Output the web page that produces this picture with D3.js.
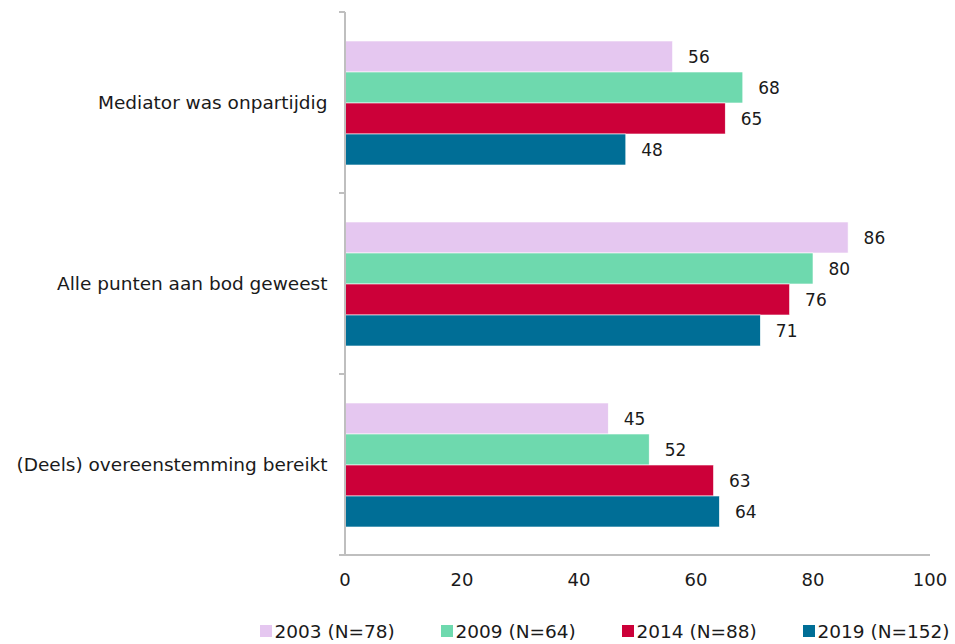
<!DOCTYPE html>
<html><head><meta charset="utf-8">
<script src="https://cdn.jsdelivr.net/npm/d3@7"></script>
<style>body{margin:0;background:#fff}svg{display:block;font-family:"DejaVu Sans",Verdana,sans-serif}</style>
</head><body><svg id="c" width="955" height="644"></svg>
<script>
const categories = ["Mediator was onpartijdig", "Alle punten aan bod geweest", "(Deels) overeenstemming bereikt"];
const seriesNames = ["2003 (N=78)", "2009 (N=64)", "2014 (N=88)", "2019 (N=152)"];
const s2003 = [56, 86, 45];
const s2009 = [68, 80, 52];
const s2014 = [65, 76, 63];
const s2019 = [48, 71, 64];
const colors = ["#E5C7F0", "#6ED9AE", "#CC0039", "#006E96"];
const xTicks = [0, 20, 40, 60, 80, 100];

const series = [s2003, s2009, s2014, s2019];
const svg = d3.select("#c");
const pLeft = 345, pRight = 930, pTop = 12, pBottom = 555;
const x = d3.scaleLinear().domain([0, 100]).range([pLeft, pRight]);
const y = d3.scaleBand().domain(categories).range([pTop, pBottom]);
const bw = y.bandwidth();
const yi = d3.scaleBand().domain(d3.range(4)).range([29, bw - 28]);
const textColor = "#1a1a1a";

// bars
categories.forEach((c, ci) => {
  series.forEach((s, si) => {
    svg.append("rect")
      .attr("x", x(0)).attr("y", y(c) + yi(si))
      .attr("width", x(s[ci]) - x(0)).attr("height", yi.bandwidth())
      .attr("fill", colors[si]).attr("stroke", "#fff").attr("stroke-width", 0.6);
    svg.append("text")
      .attr("x", x(s[ci]) + 15.5).attr("y", y(c) + yi(si) + yi.bandwidth() / 2)
      .attr("dy", "0.36em").attr("font-size", 17).attr("fill", textColor)
      .text(s[ci]);
  });
});

// y axis
const axisColor = "#BFBFBF";
svg.append("line").attr("x1", pLeft).attr("x2", pLeft).attr("y1", pTop).attr("y2", pBottom)
  .attr("stroke", axisColor).attr("stroke-width", 2);
[0, 1, 2, 3].forEach(i => {
  const yy = pTop + i * bw;
  svg.append("line").attr("x1", pLeft - 6).attr("x2", pLeft).attr("y1", yy).attr("y2", yy)
    .attr("stroke", axisColor).attr("stroke-width", 2);
});
categories.forEach(c => {
  svg.append("text").attr("x", 327.5).attr("y", y(c) + bw / 2).attr("dy", "0.36em")
    .attr("text-anchor", "end").attr("font-size", 18.5).attr("fill", textColor).text(c);
});
// x axis
svg.append("line").attr("x1", pLeft - 6).attr("x2", pRight).attr("y1", pBottom).attr("y2", pBottom)
  .attr("stroke", axisColor).attr("stroke-width", 2);
xTicks.forEach(t => {
  svg.append("text").attr("x", x(t)).attr("y", 580).attr("dy", "0.36em")
    .attr("text-anchor", "middle").attr("font-size", 18).attr("fill", textColor).text(t);
});

// legend
seriesNames.forEach((n, i) => {
  const lx = 260 + i * 181;
  svg.append("rect").attr("x", lx).attr("y", 625).attr("width", 12).attr("height", 12).attr("fill", colors[i]);
  svg.append("text").attr("x", lx + 14.5).attr("y", 631).attr("dy", "0.36em")
    .attr("font-size", 18.5).attr("fill", textColor).text(n);
});
</script></body></html>
